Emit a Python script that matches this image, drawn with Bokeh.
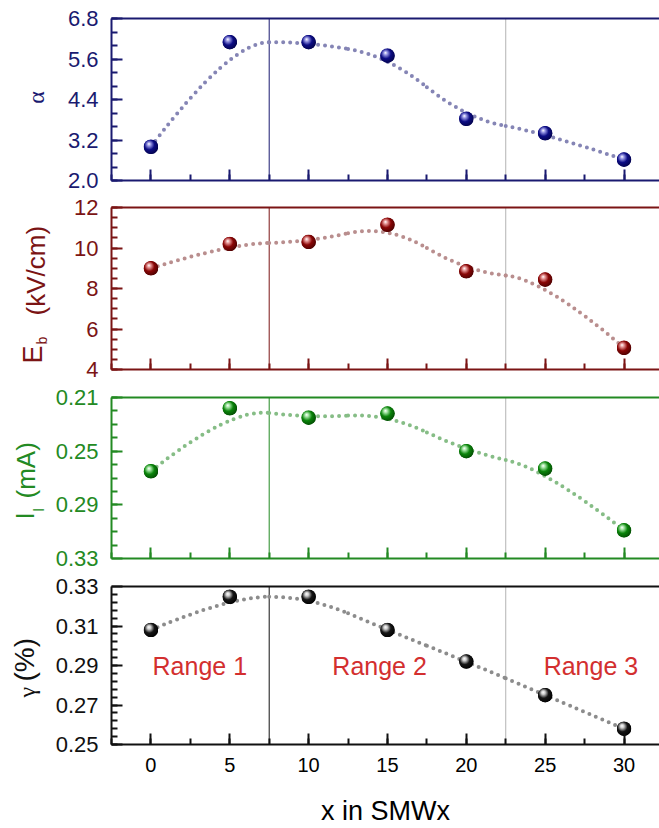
import base64
import numpy as np
from bokeh.plotting import figure
from bokeh.layouts import column, row
from bokeh.models import (Range1d, FixedTicker, LinearAxis, Span, NumeralTickFormatter,
                          CustomJSTickFormatter)
from bokeh.embed import file_html
from bokeh.resources import INLINE
from bokeh.core.properties import value

# ---------------- data ----------------
x_vals = [0, 5, 10, 15, 20, 25, 30]
alpha_vals = [3.0, 6.1, 6.1, 5.7, 3.83, 3.4, 2.62]
eb_vals = [9.0, 10.2, 10.3, 11.15, 8.85, 8.44, 5.07]
il_vals = [0.265, 0.218, 0.225, 0.222, 0.250, 0.263, 0.309]
gamma_vals = [0.308, 0.3248, 0.3248, 0.308, 0.292, 0.275, 0.258]

x_ticks = [0, 5, 10, 15, 20, 25, 30]
alpha_ticks = [2.0, 3.2, 4.4, 5.6, 6.8]
eb_ticks = [4, 6, 8, 10, 12]
il_ticks = [0.21, 0.25, 0.29, 0.33]
gamma_ticks = [0.25, 0.27, 0.29, 0.31, 0.33]

range_labels = ["Range 1", "Range 2", "Range 3"]
range_x = [3.1, 14.5, 27.9]
range_y = [0.2895, 0.2895, 0.2895]
boundaries = [7.5, 22.5]
x_title = "x in SMWx"

# ---------------- geometry / style ----------------
W = 659
LAB_W = 52            # strip holding the rotated y titles
FRAME_L = 110         # global pixel of the frames' left edge
PW = W - LAB_W        # width of the panel figures
BORDER_L = FRAME_L - LAB_W
XR = (-2.5, 32.25)
SANS = "Liberation Sans"
SERIF = "Liberation Serif"

x_range = Range1d(*XR)


def sphere_uri(base, light, dark):
    svg = ("<svg xmlns='http://www.w3.org/2000/svg' width='40' height='40' viewBox='0 0 40 40'>"
           "<defs><radialGradient id='g' cx='0.42' cy='0.42' r='0.62' fx='0.36' fy='0.3'>"
           "<stop offset='0' stop-color='#ffffff'/>"
           f"<stop offset='0.2' stop-color='{light}'/>"
           f"<stop offset='0.55' stop-color='{base}'/>"
           f"<stop offset='1' stop-color='{dark}'/>"
           "</radialGradient></defs>"
           "<circle cx='20' cy='20' r='19.5' fill='url(#g)'/></svg>")
    return "data:image/svg+xml;base64," + base64.b64encode(svg.encode()).decode()


def make_panel(ys, yr, ticks, minor, color, curve_color, sph, top, fh, bottom,
               last=False, fmt=None):
    h = top + fh + bottom
    p = figure(width=PW, height=h, x_range=x_range, y_range=Range1d(*yr),
               output_backend="svg", toolbar_location=None,
               min_border_left=BORDER_L, min_border_right=0,
               min_border_top=top, min_border_bottom=bottom,
               x_axis_location=None, y_axis_location=None)
    p.outline_line_color = None
    p.grid.visible = False
    p.background_fill_color = "white"
    p.border_fill_color = "white"

    # left axis
    ya = LinearAxis(ticker=FixedTicker(ticks=ticks, minor_ticks=list(minor)))
    if fmt is not None:
        ya.formatter = fmt
    ya.axis_line_color = color
    ya.axis_line_width = 2
    ya.major_tick_line_color = color
    ya.major_tick_line_width = 2
    ya.minor_tick_line_color = color
    ya.minor_tick_line_width = 2
    ya.major_tick_in = 11
    ya.major_tick_out = 0
    ya.minor_tick_in = 6
    ya.minor_tick_out = 0
    ya.major_label_text_color = color
    ya.major_label_text_font = SANS
    ya.major_label_text_font_size = "22px"
    ya.major_label_standoff = 13
    p.add_layout(ya, "left")

    # bottom axis
    xa = LinearAxis(ticker=FixedTicker(ticks=x_ticks,
                                       minor_ticks=list(np.arange(-2.5, 32.5, 2.5))))
    xa.axis_line_color = color
    xa.axis_line_width = 2
    xa.major_tick_line_color = color
    xa.major_tick_line_width = 2
    xa.minor_tick_line_color = color
    xa.minor_tick_line_width = 2
    xa.major_tick_in = 11
    xa.major_tick_out = 0
    xa.minor_tick_in = 6
    xa.minor_tick_out = 0
    if last:
        xa.major_label_text_color = "black"
        xa.major_label_text_font = SANS
        xa.major_label_text_font_size = "20px"
        xa.major_label_standoff = 13
        xa.axis_label = x_title
        xa.axis_label_text_font = SANS
        xa.axis_label_text_font_style = "normal"
        xa.axis_label_text_font_size = "27px"
        xa.axis_label_text_color = "black"
        xa.axis_label_standoff = 21
    else:
        xa.formatter = CustomJSTickFormatter(code="return ''")
        xa.major_label_standoff = 0
    p.add_layout(xa, "below")

    # top border line
    ta = LinearAxis(ticker=FixedTicker(ticks=[]))
    ta.axis_line_color = color
    ta.axis_line_width = 2
    ta.major_tick_in = 0
    ta.major_tick_out = 0
    ta.minor_tick_in = 0
    ta.minor_tick_out = 0
    ta.major_label_standoff = 0
    p.add_layout(ta, "above")

    # range boundaries
    p.add_layout(Span(location=boundaries[0], dimension="height", line_color=color,
                      line_width=1, level="underlay"))
    p.add_layout(Span(location=boundaries[1], dimension="height", line_color="#b4b4b4",
                      line_width=1, level="underlay"))

    # smooth dotted curve: quadratic B-spline guided by the measured points
    n = len(x_vals)
    x0, y0, x1, y1, cx, cy = [], [], [], [], [], []
    for i in range(1, n - 1):
        if i == 1:
            x0.append(x_vals[0]); y0.append(ys[0])
        else:
            x0.append((x_vals[i - 1] + x_vals[i]) / 2); y0.append((ys[i - 1] + ys[i]) / 2)
        if i == n - 2:
            x1.append(x_vals[-1]); y1.append(ys[-1])
        else:
            x1.append((x_vals[i] + x_vals[i + 1]) / 2); y1.append((ys[i] + ys[i + 1]) / 2)
        cx.append(x_vals[i]); cy.append(ys[i])
    p.quadratic(x0=x0, y0=y0, x1=x1, y1=y1, cx=cx, cy=cy, line_color=curve_color,
                line_width=4, line_dash="0 7", line_cap="round")

    # spheres
    p.scatter(x_vals, ys, size=14, marker="circle", fill_color=sph[0], line_color=None)
    p.image_url(url=[sphere_uri(*sph)] * n, x=x_vals, y=ys, w=15, h=15,
                w_units="screen", h_units="screen", anchor="center")
    return p


NAVY, MAROON, GREEN, BLACK = "#1a1a70", "#7b1414", "#238a23", "#111111"

# panel 1: alpha   (canvas 0-193, frame 18-180)
p1 = make_panel(alpha_vals, (2.0, 6.8), alpha_ticks, np.arange(2.0, 6.81, 0.4), NAVY,
                "#8585b5", ("#0d0d85", "#9a9ae6", "#03034a"), 18, 162, 13,
                fmt=NumeralTickFormatter(format="0.0"))
# panel 2: Eb      (canvas 193-382, frame 207-369)
p2 = make_panel(eb_vals, (4, 12), eb_ticks, np.arange(4, 12.01, 0.5), MAROON,
                "#b98e8e", ("#8a0606", "#e89a9a", "#4a0202"), 14, 162, 13)
# panel 3: Il reversed (canvas 382-571, frame 397-558)
p3 = make_panel(il_vals, (0.33, 0.21), il_ticks, np.arange(0.21, 0.3301, 0.01), GREEN,
                "#86bd86", ("#0b850b", "#a6e6a6", "#034a03"), 15, 161, 13)
# panel 4: gamma   (canvas 571-828, frame 586-748)
p4 = make_panel(gamma_vals, (0.25, 0.33), gamma_ticks, np.arange(0.25, 0.3301, 0.004), BLACK,
                "#8c8c8c", ("#161616", "#cfcfcf", "#000000"), 15, 162, 80, last=True)
p4.text(x=range_x, y=range_y, text=range_labels, text_font=value(SANS),
        text_font_size="25px", text_color="#d32f2f", text_align="center",
        text_baseline="middle")

# strip with the rotated y-axis titles (coordinates = page pixels)
lab = figure(width=LAB_W, height=828, x_range=Range1d(0, LAB_W), y_range=Range1d(828, 0),
             output_backend="svg", toolbar_location=None, min_border=0,
             x_axis_location=None, y_axis_location=None)
lab.outline_line_color = None
lab.grid.visible = False


def title(text, px, py, size, color, font=SANS, align="left"):
    lab.text(x=[px], y=[py], text=[text], angle=np.pi / 2, text_font=value(font),
             text_font_size=size, text_color=color, text_align=align,
             text_baseline="middle")


title("α", 35, 97, "24px", NAVY, font=SERIF, align="center")
title("E", 32, 363, "27px", MAROON)
title("b", 41, 344, "14px", MAROON)
title("(kV/cm)", 35, 315, "26px", MAROON)
title("I", 24, 519, "26px", GREEN)
title("l", 38, 511, "14px", GREEN)
title("(mA)", 25, 498, "26px", GREEN)
title("γ", 26, 697, "24px", BLACK, font=SERIF)
title("(%)", 24, 681, "28px", BLACK)

layout = row(lab, column(p1, p2, p3, p4, spacing=0), spacing=0)
open("out.html", "w").write(file_html(layout, INLINE))
